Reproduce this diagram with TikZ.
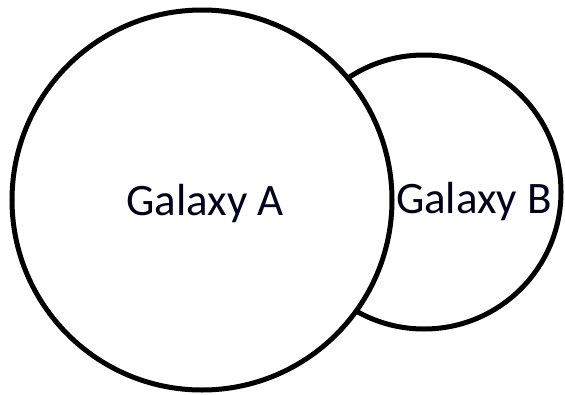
\documentclass[tikz,border=0pt]{standalone}
\usepackage{fontspec}
\setmainfont{Carlito}
\usetikzlibrary{positioning}

\begin{document}
\begin{tikzpicture}[
        x=1pt, y=-1pt,
        galaxy/.style={draw, circle, line width=5pt, fill=white, inner sep=0pt},
        galaxylabel/.style={anchor=base, inner sep=0pt, font=\fontsize{45}{50}\selectfont, text=black!90!blue}
    ]
        \useasboundingbox (0,0) rectangle (565,394);
        \node[galaxy, minimum size=274pt] (galB) at (424,192) {};
        \node[galaxy, minimum size=380pt] (galA) at (202,200) {};

        \node[galaxylabel] (labA) at (205,215) {Galaxy A};
        \node[galaxylabel] (labB) at (474,213) {Galaxy B};
    \end{tikzpicture}
\end{document}
